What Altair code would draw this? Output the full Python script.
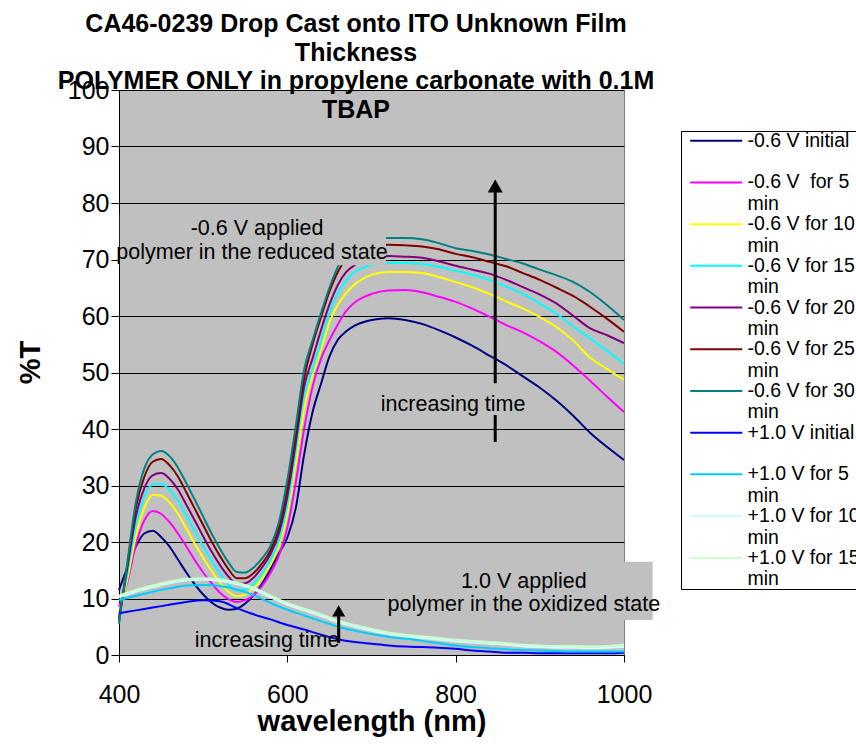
import altair as alt
import pandas as pd

FONT = "Liberation Sans"

# ---------------- data ----------------
WL_RED = [400, 410, 420, 430, 440, 450, 460, 470, 480, 490,
          500, 510, 520, 530, 540, 550, 560, 570, 580, 590,
          600, 610, 620, 630, 640, 650, 660, 670, 680, 690,
          700, 720, 740, 760, 780, 800, 820, 840, 860, 880,
          900, 920, 940, 960, 980, 1000]

RED_INITIAL = [11.5, 15.5, 19.2, 21.5, 22.0, 20.9, 19.2, 16.9, 14.6, 12.5,
               10.7, 9.3, 8.4, 8.0, 8.2, 9.1, 10.6, 12.6, 15.2, 18.0,
               20.8, 26.0, 35.5, 43.0, 48.0, 52.8, 55.8, 57.3, 58.3, 58.9,
               59.3, 59.6, 59.3, 58.6, 57.5, 56.2, 54.7, 53.0, 51.3, 49.3,
               47.3, 45.0, 42.3, 39.3, 36.8, 34.5]
RED_5 = [8.5, 13.0, 19.5, 23.8, 25.5, 25.0, 23.5, 21.5, 19.2, 16.8,
         14.6, 12.7, 11.0, 9.9, 9.4, 9.7, 10.6, 12.2, 14.5, 17.6,
         22.5, 30.5, 40.0, 47.5, 52.4, 55.7, 58.5, 60.9, 62.4, 63.3,
         63.9, 64.5, 64.6, 64.2, 63.4, 62.5, 61.3, 59.9, 58.4, 57.1,
         55.5, 53.6, 51.2, 48.5, 45.7, 43.0]
RED_10 = [7.5, 13.5, 21.0, 26.0, 28.3, 28.2, 27.0, 25.0, 22.4, 19.7,
          17.2, 14.9, 12.8, 11.2, 10.4, 10.7, 11.8, 13.6, 16.0, 19.3,
          25.0, 34.0, 43.5, 49.5, 54.0, 58.9, 62.0, 64.1, 65.6, 66.6,
          67.3, 67.8, 67.8, 67.6, 66.9, 66.0, 65.1, 63.9, 62.6, 61.3,
          59.8, 58.0, 55.6, 52.6, 50.6, 48.7]
RED_15 = [7.0, 14.5, 23.0, 28.0, 30.2, 30.3, 29.2, 27.3, 24.7, 21.9,
          19.2, 16.7, 14.4, 12.5, 11.4, 11.6, 12.6, 14.4, 16.8, 20.3,
          26.5, 36.0, 46.0, 50.5, 55.5, 60.5, 64.0, 66.3, 67.8, 68.5,
          69.0, 69.4, 69.4, 69.2, 68.7, 68.0, 67.3, 66.4, 65.2, 63.9,
          62.2, 60.4, 58.1, 56.0, 53.8, 51.6]
RED_20 = [6.5, 15.5, 24.5, 29.5, 31.8, 32.2, 31.2, 29.3, 26.6, 23.8,
          21.0, 18.3, 15.9, 13.9, 12.6, 12.7, 13.7, 15.5, 17.8, 21.5,
          28.0, 37.5, 47.5, 52.5, 57.5, 62.0, 65.5, 67.8, 69.0, 69.9,
          70.3, 70.6, 70.5, 70.3, 69.7, 68.9, 68.2, 67.5, 66.4, 65.1,
          63.8, 62.2, 60.0, 57.8, 56.6, 55.2]
RED_25 = [6.0, 16.0, 26.0, 31.5, 34.2, 34.7, 33.6, 31.6, 28.8, 25.9,
          23.0, 20.1, 17.5, 15.2, 13.6, 13.6, 14.5, 16.2, 18.5, 22.5,
          29.5, 39.0, 49.0, 55.0, 59.8, 64.3, 67.8, 70.2, 71.5, 72.2,
          72.5, 72.6, 72.5, 72.3, 71.8, 71.0, 70.4, 69.6, 68.8, 67.6,
          66.4, 65.0, 63.5, 61.6, 59.5, 57.2]
RED_30 = [5.5, 16.5, 27.0, 33.0, 35.5, 36.1, 35.2, 33.2, 30.4, 27.5,
          24.5, 21.5, 18.8, 16.4, 14.7, 14.6, 15.5, 17.1, 19.3, 23.5,
          31.0, 40.5, 50.5, 55.7, 60.5, 65.0, 68.7, 71.3, 72.8, 73.5,
          73.8, 73.8, 73.8, 73.6, 72.9, 72.0, 71.5, 70.9, 70.1, 69.3,
          68.2, 67.2, 66.0, 64.2, 61.9, 59.3]

WL_OX = [400, 420, 440, 460, 480, 500, 520, 540, 560, 580,
         600, 620, 640, 660, 680, 700, 720, 740, 760, 780,
         800, 820, 840, 860, 880, 900, 920, 940, 960, 980, 1000]

OX_INITIAL = [7.4, 7.9, 8.4, 8.9, 9.4, 9.7, 9.5, 8.3, 7.2, 6.3,
              5.3, 4.5, 3.6, 2.8, 2.3, 2.0, 1.7, 1.5, 1.4, 1.3,
              1.1, 0.8, 0.6, 0.4, 0.4, 0.3, 0.3, 0.3, 0.3, 0.3, 0.4]
OX_5 = [9.7, 10.5, 11.2, 11.8, 12.3, 12.4, 12.2, 11.6, 10.6, 9.2,
        8.0, 7.0, 6.0, 5.0, 4.3, 3.7, 3.2, 2.9, 2.5, 2.1,
        1.7, 1.4, 1.2, 1.0, 0.9, 0.8, 0.7, 0.6, 0.6, 0.6, 0.6]
OX_10 = [10.2, 11.2, 12.0, 12.7, 13.2, 13.3, 13.1, 12.5, 11.6, 10.2,
         8.9, 7.9, 6.9, 5.8, 5.0, 4.3, 3.7, 3.3, 3.0, 2.7,
         2.4, 2.2, 2.0, 1.8, 1.5, 1.4, 1.3, 1.3, 1.2, 1.3, 1.4]
OX_15 = [10.5, 11.5, 12.3, 13.0, 13.5, 13.6, 13.4, 12.8, 11.9, 10.5,
         9.2, 8.2, 7.2, 6.1, 5.3, 4.6, 4.0, 3.6, 3.3, 3.0,
         2.7, 2.5, 2.3, 2.1, 1.8, 1.7, 1.6, 1.6, 1.5, 1.6, 1.8]

SERIES_NAMES = ["-0.6 V initial", "-0.6 V\u00a0 for 5 min", "-0.6 V for 10 min",
                "-0.6 V for 15 min", "-0.6 V for 20 min", "-0.6 V for 25 min",
                "-0.6 V for 30 min", "+1.0 V initial", "+1.0 V for 5 min",
                "+1.0 V for 10 min", "+1.0 V for 15 min"]
SERIES_COLORS = ["#000080", "#FF00FF", "#FFFF00", "#00FFFF", "#800080",
                 "#800000", "#008080", "#0000FF", "#00CCFF", "#CCFFFF", "#CCFFCC"]
SERIES_VALUES = [RED_INITIAL, RED_5, RED_10, RED_15, RED_20, RED_25, RED_30,
                 OX_INITIAL, OX_5, OX_10, OX_15]
SERIES_WL = [WL_RED] * 7 + [WL_OX] * 4

TITLE_LINES = ["CA46-0239 Drop Cast onto ITO Unknown Film",
               "Thickness",
               "POLYMER ONLY in propylene carbonate with 0.1M",
               "TBAP"]

# annotation text boxes (grey-filled, in data units)
BOX_WL = [401, 716, 710]
BOX_WL2 = [717.2, 1034, 886]
BOX_T = [69.0, 6.2, 42.5]
BOX_T2 = [78.0, 16.5, 48.1]

NOTE_TEXT = ["-0.6 V applied", "polymer in the reduced state", "increasing time",
             "increasing time", "1.0 V applied", "polymer in the oxidized state"]
NOTE_WL = [564, 558, 797, 576, 881, 881]
NOTE_T = [74.3, 70.1, 43.1, 1.5, 11.8, 7.7]

ARROW_WL = [847, 661]
ARROW_T_BOTTOM = [37.7, 2.1]
ARROW_T_TOP = [83.0, 7.8]
ARROW_HEAD_SIZE = [225, 170]

# ---------------- tables ----------------
rows = []
for name, wls, vals in zip(SERIES_NAMES, SERIES_WL, SERIES_VALUES):
    for w, v in zip(wls, vals):
        rows.append({"series": name, "wl": w, "T": v})
lines_df = pd.DataFrame(rows)
box_df = pd.DataFrame({"wl": BOX_WL, "wl2": BOX_WL2, "T": BOX_T, "T2": BOX_T2})
note_df = pd.DataFrame({"wl": NOTE_WL, "T": NOTE_T, "label": NOTE_TEXT})
shaft_df = pd.DataFrame({"wl": ARROW_WL, "T": ARROW_T_BOTTOM, "T2": ARROW_T_TOP})
head_df = pd.DataFrame({"wl": ARROW_WL, "T": ARROW_T_TOP, "size": ARROW_HEAD_SIZE})

# ---------------- scales / axes ----------------
X_SCALE = alt.Scale(domain=[400, 1000], nice=False, zero=False)
Y_SCALE = alt.Scale(domain=[0, 100], nice=False)
X_AXIS = alt.Axis(values=[400, 600, 800, 1000], format="d", grid=False,
                  domainColor="black", domainWidth=1, tickColor="black", tickSize=7,
                  labelFontSize=25, labelColor="black", labelPadding=20,
                  labelFlush=False, labelOverlap=False,
                  title="wavelength (nm)", titleFontSize=29, titleFontWeight="bold",
                  titleColor="black", titleY=75, titleBaseline="alphabetic")
Y_AXIS = alt.Axis(values=list(range(0, 101, 10)), format="d", grid=True,
                  gridColor="black", gridWidth=1, gridOpacity=1,
                  domainColor="black", domainWidth=1, tickColor="black", tickSize=8,
                  labelFontSize=25, labelColor="black", labelPadding=2,
                  labelOverlap=False,
                  title="%T", titleFontSize=29, titleFontWeight="bold",
                  titleColor="black", titleAngle=270, titleX=-80, titleY=272,
                  titleAlign="center", titleBaseline="alphabetic")


def xenc():
    return alt.X("wl:Q", scale=X_SCALE, axis=X_AXIS)


def yenc():
    return alt.Y("T:Q", scale=Y_SCALE, axis=Y_AXIS)


LABEL_EXPR = ("indexof(datum.label, ' min') > 0 ? "
              "[substring(datum.label, 0, indexof(datum.label, ' min')) + '          ', 'min'] : "
              "[datum.label + '          ', '']")

lines = alt.Chart(lines_df).mark_line(strokeWidth=2, interpolate="monotone").encode(
    x=xenc(),
    y=yenc(),
    color=alt.Color("series:N",
                    scale=alt.Scale(domain=SERIES_NAMES, range=SERIES_COLORS),
                    legend=alt.Legend(title=None, orient="none", legendX=562, legendY=41,
                                      direction="vertical",
                                      symbolType="M-4,0L4,0", symbolSize=169,
                                      symbolStrokeWidth=2, symbolOffset=25.5,
                                      labelFontSize=19.5, labelFont=FONT,
                                      labelColor="black", labelOffset=21.5, labelLimit=0,
                                      labelBaseline="middle", labelExpr=LABEL_EXPR,
                                      fillColor="white", strokeColor="black",
                                      padding=0, rowPadding=-0.3, cornerRadius=0)),
)

shafts = alt.Chart(shaft_df).mark_rule(color="black", strokeWidth=3).encode(
    x=xenc(), y=yenc(), y2="T2:Q")

boxes = alt.Chart(box_df).mark_rect(color="#C0C0C0", opacity=1, clip=False).encode(
    x=xenc(), x2="wl2:Q", y=yenc(), y2="T2:Q")

notes = alt.Chart(note_df).mark_text(fontSize=21.5, color="black", align="center",
                                     baseline="alphabetic", font=FONT).encode(
    x=xenc(), y=yenc(), text="label:N")

heads = alt.Chart(head_df).mark_point(shape="triangle-up", filled=True, color="black",
                                      opacity=1, strokeWidth=0).encode(
    x=xenc(), y=yenc(),
    size=alt.Size("size:Q", scale=None, legend=None))

chart = alt.layer(lines, shafts, boxes, notes, heads).properties(
    width=505, height=565,
    padding={"left": 119, "top": 90, "right": 232, "bottom": 95},
    autosize=alt.AutoSizeParams(type="none"),
    title=alt.TitleParams(text=TITLE_LINES, font=FONT, fontSize=25, fontWeight="bold",
                          color="black", lineHeight=28.7, anchor="middle",
                          frame="group", offset=0, dx=-15.5, dy=45),
).configure(
    font=FONT, background="white"
).configure_view(
    fill="#C0C0C0", stroke="#808080", strokeWidth=1
)

chart.save("out.html", embed_options={"renderer": "svg", "actions": False})
